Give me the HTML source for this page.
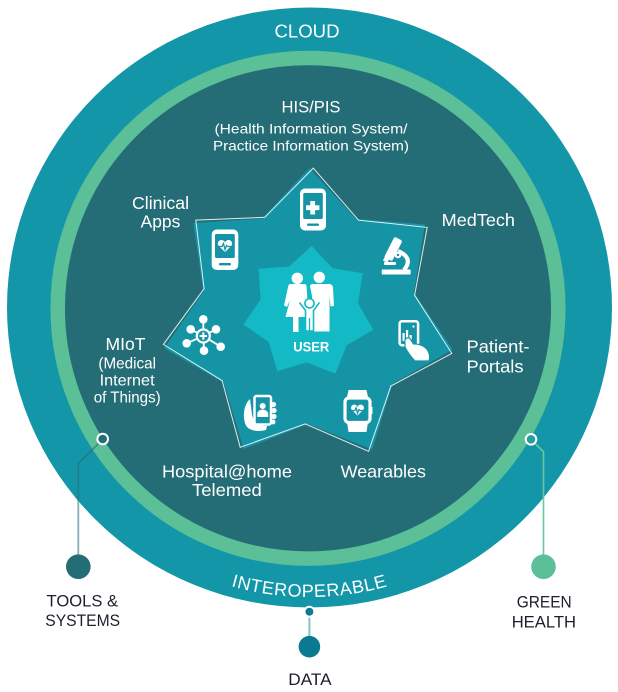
<!DOCTYPE html>
<html><head><meta charset="utf-8"><style>
html,body{margin:0;padding:0;background:#fff;width:618px;height:692px;overflow:hidden}
svg{display:block}
text{font-family:"Liberation Sans",sans-serif}
</style></head><body>
<svg width="618" height="692" viewBox="0 0 618 692">
<!-- outer ring -->
<ellipse cx="309.5" cy="307.5" rx="302.5" ry="300" fill="#1496a9"/>
<!-- dark inner -->
<circle cx="308" cy="308.3" r="250.3" fill="#246d77" stroke="#5bbf97" stroke-width="14.5"/>

<!-- star -->
<polygon points="313.25,168.1 358.5,220.2 427.2,227.4 414.6,295.3 451.8,353.4 390.9,386.0 368.6,451.3 305.2,423.9 240.2,447.3 222.1,380.6 163.4,344.4 204.1,288.7 195.8,220.1 264.8,217.3" fill="#1594a6" transform="rotate(-1.5 308.6 316)"/>
<polygon points="313.25,168.1 358.5,220.2 427.2,227.4 414.6,295.3 451.8,353.4 390.9,386.0 368.6,451.3 305.2,423.9 240.2,447.3 222.1,380.6 163.4,344.4 204.1,288.7 195.8,220.1 264.8,217.3" fill="none" stroke="#ffffff" stroke-opacity="0.85" stroke-width="1"/>
<!-- inner star -->
<polygon points="311.7,245.9 332.5,268.3 362.7,273.1 358.1,303.3 373.2,329.9 346.7,345.2 335.3,373.6 306.8,362.4 277.5,371.1 268.5,341.9 243.4,324.5 260.7,299.2 258.6,268.7 289.1,266.5" fill="#13b9c4"/>

<!-- user icon -->
<g fill="#fff">
<circle cx="297.3" cy="278.3" r="5.7"/>
<circle cx="319.3" cy="277.3" r="5.7"/>
<!-- woman -->
<path d="M288.5,285 Q289,284 291,284 L304,284 Q306,284 306.5,286 L307.5,300 L306,317 L298.5,317 L298.5,332 L293,332 L293,317 L285.5,317 L290,300 L287,307 L284,305.5 Z"/>
<!-- man -->
<path d="M310,286 Q310.5,284 313,284 L329,284 Q332.5,284 333,287.5 L334,306 L330.5,306.5 L329.5,296 L329.5,331.5 L314,331.5 L312,296 Z"/>
</g>
<!-- child -->
<g fill="#fff" stroke="#13b9c4" stroke-width="1.6">
<path d="M299.5,302.5 L305.5,310.5 L305.5,331 L313.5,331 L313.5,310.5 L319.5,302.5"/>
<circle cx="309.5" cy="303.3" r="4.6"/>
</g>
<line x1="309.5" y1="318" x2="309.5" y2="331" stroke="#13b9c4" stroke-width="1.3"/>
<text x="311.3" y="351.7" font-size="13.5" font-weight="bold" fill="#fff" text-anchor="middle" textLength="36" lengthAdjust="spacingAndGlyphs">USER</text>

<!-- top phone -->
<rect x="300" y="188.5" width="26" height="42" rx="5" fill="#fff"/>
<rect x="303.2" y="193" width="19.6" height="26" rx="1.5" fill="#1594a6"/>
<rect x="310.3" y="201" width="4.8" height="13.5" fill="#fff"/>
<rect x="306" y="205.3" width="13.4" height="4.8" fill="#fff"/>
<rect x="307" y="223.5" width="12" height="2.4" rx="1" fill="#1594a6"/>

<!-- clinical phone -->
<rect x="211.7" y="229.5" width="26.6" height="40.5" rx="5" fill="#fff"/>
<rect x="215" y="234" width="19.8" height="24" rx="1.5" fill="#1594a6"/>
<g transform="translate(225,246.5)">
<path d="M0,5.5 L-6.2,-0.5 C-8.5,-3 -6.5,-6.5 -3.5,-6.5 C-1.8,-6.5 -0.5,-5.3 0,-4.2 C0.5,-5.3 1.8,-6.5 3.5,-6.5 C6.5,-6.5 8.5,-3 6.2,-0.5 Z" fill="#fff"/>
<polyline points="-7,0 -3,0 -1.5,-3 0,3 1.5,-1 2.5,0 7,0" fill="none" stroke="#1594a6" stroke-width="1.3"/>
</g>
<rect x="219" y="263" width="12" height="2.4" rx="1" fill="#1594a6"/>

<!-- microscope -->
<g fill="#fff">
<rect x="-4.5" y="-11.5" width="9" height="23" rx="2" transform="translate(393.3,249) rotate(27)"/>
<rect x="-2.5" y="-3" width="5" height="6" transform="translate(386.5,259) rotate(27)"/>
<rect x="384" y="262" width="12" height="3" rx="1"/>
<rect x="381.7" y="269.5" width="29" height="5" rx="1"/>
</g>
<path d="M398,251 Q414,258 404,270" stroke="#fff" stroke-width="4.2" fill="none"/>
<circle cx="398" cy="255" r="3.3" fill="#fff"/>
<circle cx="398" cy="255" r="1.2" fill="#1594a6"/>

<!-- patient portal -->
<rect x="399.6" y="321.2" width="18.5" height="24" rx="2.5" fill="#1594a6" stroke="#fff" stroke-width="2.5"/>
<g fill="#fff">
<rect x="402.5" y="333" width="2.2" height="8"/>
<rect x="406" y="330" width="2.2" height="11"/>
<rect x="409.5" y="335" width="2.2" height="6"/>
<circle cx="413.5" cy="326.5" r="1.1"/>
</g>
<path d="M405,343 C404,339 407,336.5 410,338.5 L413.5,344 C419,343.5 424.5,346 427.5,350 C430,354 430,358 429,361 L415,361 C411,357 407,351 405,347 Z" fill="#fff" stroke="#1594a6" stroke-width="1.2"/>

<!-- wearable -->
<path d="M347,397 L348.5,390 L366.5,390 L368,397 Z" fill="#fff"/>
<path d="M347,422 L368,422 L366.5,432 L348.5,432 Z" fill="#fff"/>
<rect x="345" y="398" width="25" height="24.5" rx="4" fill="#1594a6" stroke="#fff" stroke-width="3.2"/>
<rect x="369.5" y="407" width="3" height="7" fill="#fff"/>
<g transform="translate(357.5,410.5) scale(0.9)">
<path d="M0,5.5 L-6.2,-0.5 C-8.5,-3 -6.5,-6.5 -3.5,-6.5 C-1.8,-6.5 -0.5,-5.3 0,-4.2 C0.5,-5.3 1.8,-6.5 3.5,-6.5 C6.5,-6.5 8.5,-3 6.2,-0.5 Z" fill="#fff"/>
<polyline points="-9,0 -3,0 -1.5,-3 0,3 1.5,-1 2.5,0 9,0" fill="none" stroke="#1594a6" stroke-width="1.4"/>
</g>

<!-- hospital@home -->
<path d="M250,399 C243,405 242,420 247,427 C251,431 259,432 266,430 L267,426 C259,426 253,422 252,414 Z" fill="#fff"/>
<rect x="254.5" y="396" width="16.5" height="28.5" rx="2" fill="#1594a6" stroke="#fff" stroke-width="2.5"/>
<circle cx="262.7" cy="406" r="3" fill="#fff"/>
<path d="M257.2,417 v-3 a5.5,4.5 0 0 1 11,0 v3 z" fill="#fff"/>
<g fill="#fff">
<circle cx="273.5" cy="404.5" r="2.6"/>
<circle cx="274" cy="410.5" r="2.6"/>
<circle cx="274" cy="416.5" r="2.6"/>
<circle cx="273" cy="422" r="2.4"/>
</g>

<!-- MIoT network -->
<g stroke="#fff" stroke-width="1.8">
<line x1="203.3" y1="336" x2="203.3" y2="319.3"/>
<line x1="203.3" y1="336" x2="216" y2="329.3"/>
<line x1="203.3" y1="336" x2="220.7" y2="346.7"/>
<line x1="203.3" y1="336" x2="204" y2="350.7"/>
<line x1="203.3" y1="336" x2="186.7" y2="343.3"/>
<line x1="203.3" y1="336" x2="190.7" y2="329.3"/>
</g>
<g fill="#fff">
<circle cx="203.3" cy="319.3" r="4.3"/>
<circle cx="216" cy="329.3" r="4.3"/>
<circle cx="220.7" cy="346.7" r="4.3"/>
<circle cx="204" cy="350.7" r="4.3"/>
<circle cx="186.7" cy="343.3" r="4.3"/>
<circle cx="190.7" cy="329.3" r="4.3"/>
<circle cx="203.3" cy="336" r="7.6"/>
</g>
<circle cx="203.3" cy="336" r="5.4" fill="#1594a6"/>
<rect x="202.3" y="332.3" width="2" height="7.4" fill="#fff"/>
<rect x="199.6" y="335" width="7.4" height="2" fill="#fff"/>

<!-- labels inside -->
<g fill="#fff">
<text x="307" y="37.3" font-size="18" text-anchor="middle" textLength="65" lengthAdjust="spacingAndGlyphs">CLOUD</text>
<text x="311" y="112.7" font-size="16.5" text-anchor="middle" textLength="59" lengthAdjust="spacingAndGlyphs">HIS/PIS</text>
<text x="311" y="133.5" font-size="14" text-anchor="middle" textLength="193" lengthAdjust="spacingAndGlyphs">(Health Information System/</text>
<text x="311" y="150.5" font-size="14" text-anchor="middle" textLength="196" lengthAdjust="spacingAndGlyphs">Practice Information System)</text>
<text x="132" y="209" font-size="17.5" textLength="57" lengthAdjust="spacingAndGlyphs">Clinical</text>
<text x="140.6" y="227.3" font-size="17.5" textLength="39.7" lengthAdjust="spacingAndGlyphs">Apps</text>
<text x="441.7" y="226" font-size="17.5" textLength="73.3" lengthAdjust="spacingAndGlyphs">MedTech</text>
<text x="105.5" y="350" font-size="17.5" textLength="40" lengthAdjust="spacingAndGlyphs">MIoT</text>
<text x="98.4" y="368.3" font-size="16" textLength="57.6" lengthAdjust="spacingAndGlyphs">(Medical</text>
<text x="99.6" y="385.7" font-size="16" textLength="55" lengthAdjust="spacingAndGlyphs">Internet</text>
<text x="93.7" y="402.3" font-size="16" textLength="67" lengthAdjust="spacingAndGlyphs">of Things)</text>
<text x="466.5" y="352.7" font-size="17.5" textLength="63" lengthAdjust="spacingAndGlyphs">Patient-</text>
<text x="466.5" y="372.3" font-size="17.5" textLength="57" lengthAdjust="spacingAndGlyphs">Portals</text>
<text x="162" y="477.3" font-size="17.5" textLength="130" lengthAdjust="spacingAndGlyphs">Hospital@home</text>
<text x="192" y="496" font-size="17.5" textLength="69.8" lengthAdjust="spacingAndGlyphs">Telemed</text>
<text x="340.6" y="477.3" font-size="17.5" textLength="85.4" lengthAdjust="spacingAndGlyphs">Wearables</text>
</g>

<!-- INTEROPERABLE on arc -->
<defs>
<path id="arc" d="M20.5,308 A289,289 0 0 0 598.5,308"/>
</defs>
<text font-size="18" fill="#fff" letter-spacing="0.6"><textPath href="#arc" startOffset="50%" text-anchor="middle">INTEROPERABLE</textPath></text>

<!-- connectors -->
<polyline points="99,443 78.3,463.3 78.3,556" fill="none" stroke="#246d77" stroke-opacity="0.55" stroke-width="1.8"/>
<circle cx="102.7" cy="439" r="5.3" fill="#246d77" stroke="#fff" stroke-width="2"/>
<circle cx="78.3" cy="566.7" r="12.3" fill="#246d77"/>

<polyline points="535,443.5 543.5,451.7 543.5,556" fill="none" stroke="#6cc7a0" stroke-width="1.6"/>
<circle cx="531" cy="439.3" r="5.3" fill="#2a9e9e" stroke="#fff" stroke-width="2"/>
<circle cx="543.5" cy="566.7" r="12.3" fill="#5bbf97"/>

<line x1="309.4" y1="616" x2="309.4" y2="638" stroke="#7fc3cf" stroke-width="2"/>
<circle cx="309.4" cy="611.7" r="5" fill="#0c7a90" stroke="#fff" stroke-width="2"/>
<circle cx="309.4" cy="646.7" r="10.8" fill="#0a7a90"/>

<!-- bottom labels -->
<g fill="#1e1e2a">
<text x="46.5" y="606.7" font-size="17" textLength="71.6" lengthAdjust="spacingAndGlyphs">TOOLS &amp;</text>
<text x="45.3" y="626" font-size="17" textLength="74.8" lengthAdjust="spacingAndGlyphs">SYSTEMS</text>
<text x="516.7" y="607.3" font-size="17" textLength="55" lengthAdjust="spacingAndGlyphs">GREEN</text>
<text x="511.7" y="627.3" font-size="17" textLength="64.3" lengthAdjust="spacingAndGlyphs">HEALTH</text>
<text x="288.3" y="685" font-size="17" textLength="43.3" lengthAdjust="spacingAndGlyphs">DATA</text>
</g>
</svg>
</body></html>
